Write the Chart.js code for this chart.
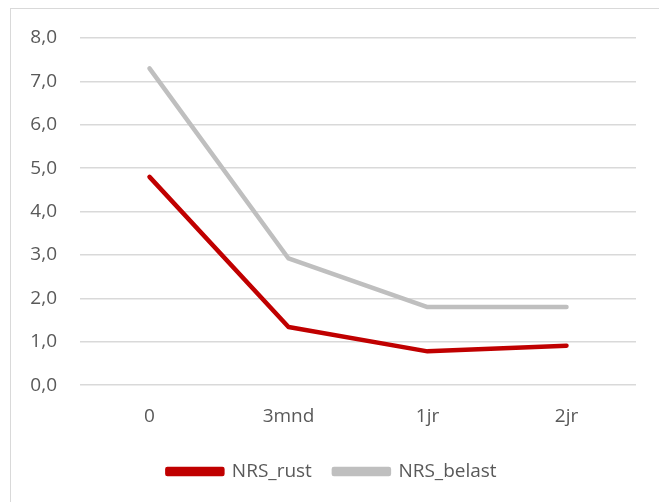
<!DOCTYPE html>
<html>
<head>
<meta charset="utf-8">
<script src="https://cdn.jsdelivr.net/npm/chart.js@4"></script>
<style>
  body { margin: 0; background: #fff; }
  #wrap { position: relative; width: 659px; height: 502px; overflow: hidden; }
  #frame { position: absolute; left: 10px; top: 8px; width: 660px; height: 510px;
           border: 1px solid #d9d9d9; box-sizing: border-box; }
  canvas { position: absolute; left: 0; top: 0; }
</style>
</head>
<body>
<div id="wrap">
  <div id="frame"></div>
  <canvas id="chart" width="659" height="502"></canvas>
</div>
<script>
// categories and series
const categories = ['0', '3mnd', '1jr', '2jr'];
const nrsRust = [4.80, 1.34, 0.78, 0.91];
const nrsBelast = [7.30, 2.92, 1.80, 1.80];

const fontFam = "'Open Sans', sans-serif";

const ctx = document.getElementById('chart').getContext('2d');
new Chart(ctx, {
  type: 'line',
  data: {
    labels: categories,
    datasets: [{
      label: 'NRS_rust',
      data: nrsRust,
      borderColor: '#c00000',
      backgroundColor: '#c00000',
      borderWidth: 4.5,
      pointRadius: 0,
      borderCapStyle: 'round',
      borderJoinStyle: 'round',
      tension: 0
    }, {
      label: 'NRS_belast',
      data: nrsBelast,
      borderColor: '#bfbfbf',
      backgroundColor: '#bfbfbf',
      borderWidth: 4.5,
      pointRadius: 0,
      borderCapStyle: 'round',
      borderJoinStyle: 'round',
      tension: 0
    }]
  },
  options: {
    responsive: false,
    animation: false,
    layout: { padding: { left: 28, right: 23, top: 38, bottom: 11 } },
    scales: {
      x: {
        offset: true,
        grid: { display: false },
        border: { display: false },
        ticks: { color: '#595959', font: { size: 19, family: fontFam }, padding: 12 }
      },
      y: {
        min: 0,
        max: 8,
        afterFit: s => { s.width = 52; },
        ticks: {
          stepSize: 1,
          color: '#595959',
          font: { size: 19, family: fontFam },
          padding: 23,
          callback: v => v.toFixed(1).replace('.', ',')
        },
        grid: { color: '#d9d9d9', lineWidth: 1.5, drawTicks: false },
        border: { display: false }
      }
    },
    plugins: {
      legend: {
        position: 'bottom',
        labels: {
          color: '#595959',
          font: { size: 19, family: fontFam },
          boxWidth: 55,
          boxHeight: 5,
          padding: 22
        }
      },
      tooltip: { enabled: false }
    }
  }
});
</script>
</body>
</html>
